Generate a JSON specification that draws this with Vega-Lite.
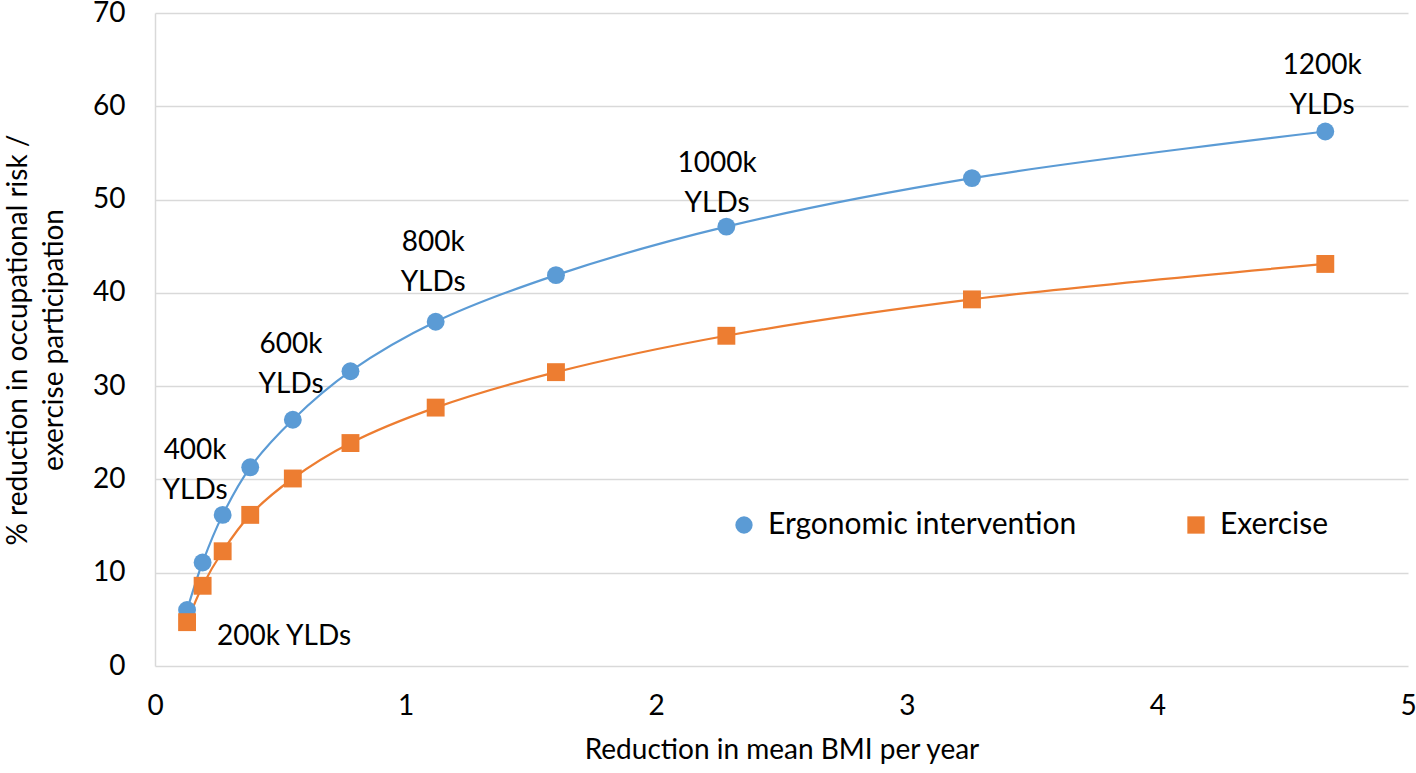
{
  "$schema": "https://vega.github.io/schema/vega-lite/v6.json",
  "width": 1253,
  "height": 653,
  "autosize": {"type": "none"},
  "padding": {"left": 155, "top": 13, "right": 8, "bottom": 107},
  "background": "white",
  "config": {
    "view": {"stroke": null},
    "font": "Lato",
    "text": {"font": "Lato"}
  },
  "datasets": {
    "series": [
      {"bmi": 0.128, "pct": 6.0, "series": "Ergonomic intervention"},
      {"bmi": 0.19, "pct": 11.1, "series": "Ergonomic intervention"},
      {"bmi": 0.27, "pct": 16.2, "series": "Ergonomic intervention"},
      {"bmi": 0.38, "pct": 21.3, "series": "Ergonomic intervention"},
      {"bmi": 0.55, "pct": 26.4, "series": "Ergonomic intervention"},
      {"bmi": 0.78, "pct": 31.6, "series": "Ergonomic intervention"},
      {"bmi": 1.12, "pct": 36.9, "series": "Ergonomic intervention"},
      {"bmi": 1.60, "pct": 41.9, "series": "Ergonomic intervention"},
      {"bmi": 2.28, "pct": 47.1, "series": "Ergonomic intervention"},
      {"bmi": 3.26, "pct": 52.3, "series": "Ergonomic intervention"},
      {"bmi": 4.67, "pct": 57.3, "series": "Ergonomic intervention"},
      {"bmi": 0.128, "pct": 4.7, "series": "Exercise"},
      {"bmi": 0.19, "pct": 8.6, "series": "Exercise"},
      {"bmi": 0.27, "pct": 12.3, "series": "Exercise"},
      {"bmi": 0.38, "pct": 16.2, "series": "Exercise"},
      {"bmi": 0.55, "pct": 20.1, "series": "Exercise"},
      {"bmi": 0.78, "pct": 23.9, "series": "Exercise"},
      {"bmi": 1.12, "pct": 27.7, "series": "Exercise"},
      {"bmi": 1.60, "pct": 31.5, "series": "Exercise"},
      {"bmi": 2.28, "pct": 35.4, "series": "Exercise"},
      {"bmi": 3.26, "pct": 39.3, "series": "Exercise"},
      {"bmi": 4.67, "pct": 43.1, "series": "Exercise"}
    ],
    "notes": [
      {"bmi": 0.515, "pct": 3.1, "label": "200k YLDs"},
      {"bmi": 0.16, "pct": 23.0, "label": "400k\nYLDs"},
      {"bmi": 0.543, "pct": 34.4, "label": "600k\nYLDs"},
      {"bmi": 1.11, "pct": 45.3, "label": "800k\nYLDs"},
      {"bmi": 2.243, "pct": 53.8, "label": "1000k\nYLDs"},
      {"bmi": 4.657, "pct": 64.3, "label": "1200k\nYLDs"}
    ]
  },
  "layer": [
    {
      "data": {"name": "series"},
      "transform": [{"filter": "datum.series === 'Ergonomic intervention'"}],
      "mark": {"type": "line", "interpolate": "catmull-rom", "strokeWidth": 2.2, "color": "#5B9BD5"},
      "encoding": {
        "x": {
          "field": "bmi", "type": "quantitative",
          "scale": {"domain": [0, 5], "nice": false},
          "axis": {
            "title": "Reduction in mean BMI per year",
            "values": [0, 1, 2, 3, 4, 5],
            "format": "d",
            "grid": false, "domain": false, "ticks": false,
            "labelFont": "Lato", "labelFontSize": 28, "labelColor": "#000000",
            "labelPadding": 26, "labelFlush": false,
            "titleFont": "Lato", "titleFontSize": 28, "titleFontWeight": "normal", "titleColor": "#000000",
            "titlePadding": 16
          }
        },
        "y": {
          "field": "pct", "type": "quantitative",
          "scale": {"domain": [0, 70], "nice": false},
          "axis": {
            "title": ["% reduction in occupational risk /", "exercise participation"],
            "values": [0, 10, 20, 30, 40, 50, 60, 70],
            "grid": true, "gridColor": "#d9d9d9", "gridWidth": 1.5,
            "domain": true, "domainColor": "#d9d9d9", "domainWidth": 1.5,
            "ticks": false,
            "labelFont": "Lato", "labelFontSize": 28, "labelColor": "#000000",
            "labelPadding": 30, "labelFlush": false,
            "titleFont": "Lato", "titleFontSize": 28, "titleFontWeight": "normal", "titleColor": "#000000",
            "titleLineHeight": 36, "titlePadding": 24
          }
        }
      }
    },
    {
      "data": {"name": "series"},
      "transform": [{"filter": "datum.series === 'Exercise'"}],
      "mark": {"type": "line", "interpolate": "catmull-rom", "strokeWidth": 2.2, "color": "#ED7D31"},
      "encoding": {
        "x": {"field": "bmi", "type": "quantitative"},
        "y": {"field": "pct", "type": "quantitative"}
      }
    },
    {
      "data": {"name": "series"},
      "mark": {"type": "point", "filled": true, "opacity": 1, "size": 320},
      "encoding": {
        "x": {"field": "bmi", "type": "quantitative"},
        "y": {"field": "pct", "type": "quantitative"},
        "color": {
          "field": "series", "type": "nominal",
          "scale": {"domain": ["Ergonomic intervention", "Exercise"], "range": ["#5B9BD5", "#ED7D31"]},
          "legend": {
            "title": null,
            "orient": "none",
            "direction": "horizontal",
            "legendX": 574,
            "legendY": 497,
            "padding": 0,
            "symbolSize": 300,
            "labelOffset": 9,
            "columnPadding": 104,
            "labelFont": "Lato", "labelFontSize": 30, "labelColor": "#000000", "labelLimit": 0
          }
        },
        "shape": {
          "field": "series", "type": "nominal",
          "scale": {"domain": ["Ergonomic intervention", "Exercise"], "range": ["circle", "square"]},
          "legend": null
        }
      }
    },
    {
      "data": {"name": "notes"},
      "mark": {"type": "text", "align": "center", "baseline": "middle", "lineBreak": "\n", "lineHeight": 40, "font": "Lato", "fontSize": 28, "color": "#000000"},
      "encoding": {
        "x": {"field": "bmi", "type": "quantitative"},
        "y": {"field": "pct", "type": "quantitative"},
        "text": {"field": "label"}
      }
    }
  ]
}
